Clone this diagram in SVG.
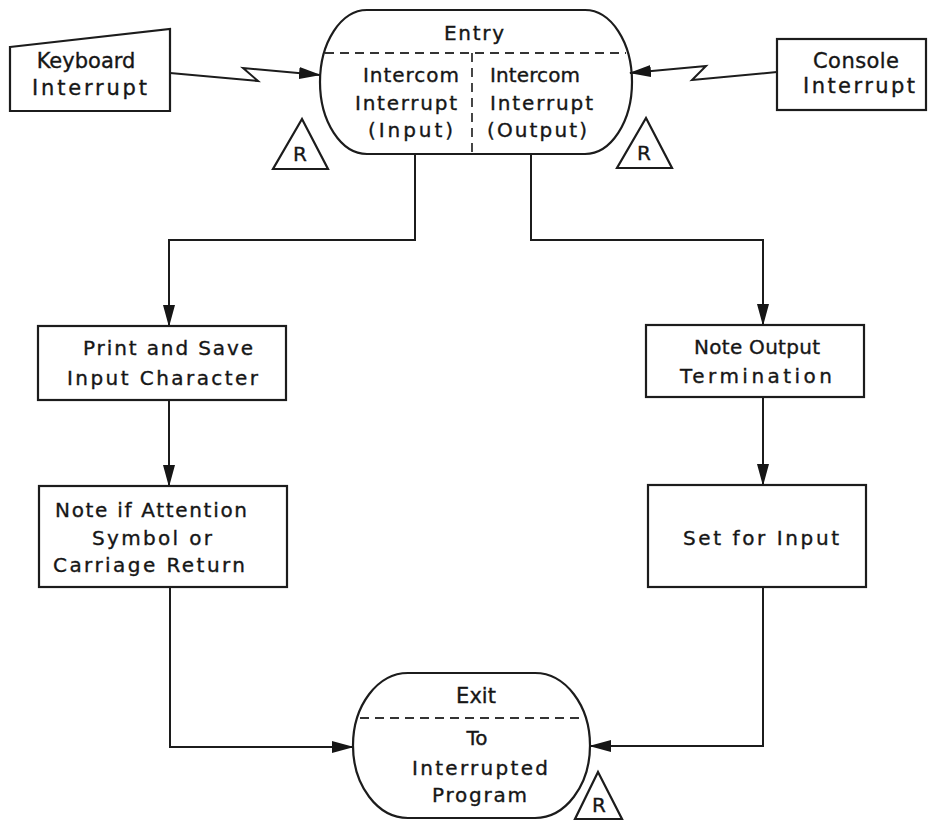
<svg xmlns="http://www.w3.org/2000/svg" width="928" height="823" viewBox="0 0 928 823">
  <style>
    .shape { fill: none; stroke: #1c1c1c; stroke-width: 2.2; }
    .wire { fill: none; stroke: #1c1c1c; stroke-width: 2; }
    .dash { fill: none; stroke: #333; stroke-width: 1.8; stroke-dasharray: 9 6; }
    text { font-family: "DejaVu Sans", "Liberation Sans", sans-serif; font-size: 20px; fill: #161616; stroke: #161616; stroke-width: 0.35; }
    .big { font-size: 21px; }
    .mid { text-anchor: middle; }
    .tag { font-size: 20px; text-anchor: middle; }
  </style>
  <defs>
    <marker id="arrow" markerUnits="userSpaceOnUse" markerWidth="22" markerHeight="12" refX="21" refY="6" orient="auto">
      <path d="M0,0 L22,6 L0,12 Z" fill="#161616"/>
    </marker>
  </defs>
  <rect x="0" y="0" width="928" height="823" fill="#ffffff"/>

  <g id="connectors">
    <polyline class="wire" points="170,73 258,81 243,68 320,75" marker-end="url(#arrow)"/>
    <polyline class="wire" points="777,72 692,80 706,66 630,73" marker-end="url(#arrow)"/>
    <polyline class="wire" points="415,154 415,240 169,240 169,326" marker-end="url(#arrow)"/>
    <polyline class="wire" points="531,154 531,240 763,240 763,325" marker-end="url(#arrow)"/>
    <polyline class="wire" points="169,400 169,486" marker-end="url(#arrow)"/>
    <polyline class="wire" points="763,397 763,485" marker-end="url(#arrow)"/>
    <polyline class="wire" points="170,587 170,747 353,747" marker-end="url(#arrow)"/>
    <polyline class="wire" points="763,587 763,746 590,746" marker-end="url(#arrow)"/>
  </g>

  <g id="keyboard-interrupt">
    <polygon class="shape" points="10,47 170,29 170,111 10,111"/>
    <text class="big mid" x="86" y="68">Keyboard</text>
    <text class="big" x="32" y="95" textLength="115" lengthAdjust="spacing">Interrupt</text>
  </g>

  <g id="console-interrupt">
    <rect class="shape" x="777" y="39" width="149" height="71"/>
    <text class="big" x="813" y="68" textLength="86" lengthAdjust="spacing">Console</text>
    <text class="big" x="803" y="93" textLength="112" lengthAdjust="spacing">Interrupt</text>
  </g>

  <g id="entry">
    <path class="shape" d="M367,10 H585 A47,72 0 0 1 585,154 H367 A47,72 0 0 1 367,10 Z"/>
    <line class="dash" x1="325" y1="53" x2="626" y2="53"/>
    <line class="dash" x1="472" y1="53" x2="472" y2="154"/>
    <text x="444" y="40" textLength="60" lengthAdjust="spacing">Entry</text>
    <text x="363" y="82" textLength="96" lengthAdjust="spacing">Intercom</text>
    <text x="355" y="110" textLength="102" lengthAdjust="spacing">Interrupt</text>
    <text x="368" y="137" textLength="85" lengthAdjust="spacing">(Input)</text>
    <text x="490" y="82" textLength="90" lengthAdjust="spacing">Intercom</text>
    <text x="490" y="110" textLength="103" lengthAdjust="spacing">Interrupt</text>
    <text x="487" y="137" textLength="100" lengthAdjust="spacing">(Output)</text>
  </g>

  <g id="restart-left">
    <polygon class="shape" points="302,119 328,169 273,169"/>
    <text class="tag" x="300" y="161">R</text>
  </g>
  <g id="restart-right">
    <polygon class="shape" points="646,118 672,168 617,168"/>
    <text class="tag" x="644" y="160">R</text>
  </g>

  <g id="print-save">
    <rect class="shape" x="38" y="326" width="248" height="74"/>
    <text x="83" y="355" textLength="170" lengthAdjust="spacing">Print and Save</text>
    <text x="67" y="385" textLength="191" lengthAdjust="spacing">Input Character</text>
  </g>

  <g id="note-attention">
    <rect class="shape" x="39" y="486" width="248" height="101"/>
    <text x="55" y="517" textLength="192" lengthAdjust="spacing">Note if Attention</text>
    <text x="92" y="545" textLength="120" lengthAdjust="spacing">Symbol or</text>
    <text x="53" y="572" textLength="192" lengthAdjust="spacing">Carriage Return</text>
  </g>

  <g id="note-output">
    <rect class="shape" x="646" y="325" width="218" height="72"/>
    <text x="694" y="354" textLength="126" lengthAdjust="spacing">Note Output</text>
    <text x="680" y="383" textLength="152" lengthAdjust="spacing">Termination</text>
  </g>

  <g id="set-input">
    <rect class="shape" x="648" y="485" width="218" height="102"/>
    <text x="683" y="545" textLength="156" lengthAdjust="spacing">Set for Input</text>
  </g>

  <g id="exit">
    <path class="shape" d="M408,673 H535 A55,72.5 0 0 1 535,818 H408 A55,72.5 0 0 1 408,673 Z"/>
    <line class="dash" x1="360" y1="718" x2="584" y2="718"/>
    <text class="big mid" x="476" y="703">Exit</text>
    <text class="mid" x="477" y="745">To</text>
    <text x="412" y="775" textLength="136" lengthAdjust="spacing">Interrupted</text>
    <text x="432" y="802" textLength="95" lengthAdjust="spacing">Program</text>
  </g>

  <g id="restart-exit">
    <polygon class="shape" points="598,772 622,819 575,819"/>
    <text class="tag" x="599" y="812">R</text>
  </g>
</svg>
